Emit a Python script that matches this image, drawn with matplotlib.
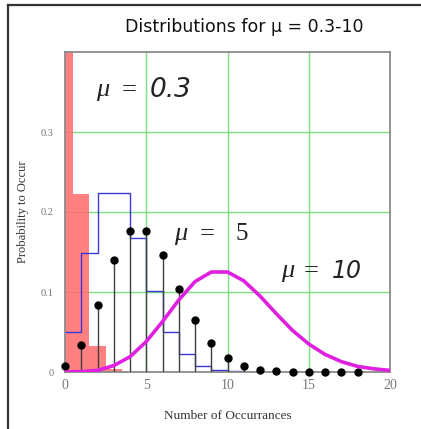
import numpy as np
from matplotlib import pyplot as plt
from matplotlib.lines import Line2D

# values
k_red = [0, 1, 2, 3]
p_red = [0.741, 0.222, 0.033, 0.004]          # mu = 0.3, bars

k_blue = [0, 1, 2, 3, 4, 5, 6, 7, 8, 9, 10]
p_blue = [0.050, 0.149, 0.224, 0.224, 0.168, 0.101, 0.050, 0.022, 0.008, 0.003, 0.001]   # blue step

k_stem = list(range(19))
p_stem = [0.007, 0.034, 0.084, 0.140, 0.176, 0.176, 0.146, 0.104, 0.065, 0.036,
          0.018, 0.008, 0.003, 0.001, 0.0005, 0.0002, 0.0001, 0.0, 0.0]   # mu = 5, stems

k_mag = list(range(21))
p_mag = [0.0, 0.0005, 0.002, 0.008, 0.019, 0.038, 0.063, 0.090, 0.113, 0.125, 0.125,
         0.114, 0.095, 0.073, 0.052, 0.035, 0.022, 0.013, 0.007, 0.004, 0.002]   # mu = 10

x_ticks = [0, 5, 10, 15, 20]
y_ticks = [0, 0.1, 0.2, 0.3]
y_tick_labels = ["0", "0.1", "0.2", "0.3"]

W, H = 421, 429
fig = plt.figure(figsize=(W / 100, H / 100), dpi=100)
ax = fig.add_axes([65 / W, (H - 372) / H, (390 - 65) / W, (372 - 52) / H])

grid_green = "#7fe07f"
ax.set_xlim(0, 20)
ax.set_ylim(0, 0.4)
ax.set_xticks(x_ticks)
ax.set_yticks(y_ticks)
ax.set_yticklabels(y_tick_labels)
for v in [5, 10, 15]:
    ax.axvline(v, color=grid_green, lw=1, zorder=0)
for v in [0.1, 0.2, 0.3]:
    ax.axhline(v, color=grid_green, lw=1, zorder=0)

ax.tick_params(length=0, colors="#777777")
for lab in ax.get_xticklabels():
    lab.set_family("Liberation Serif")
    lab.set_fontsize(10)
for lab in ax.get_yticklabels():
    lab.set_family("Liberation Serif")
    lab.set_fontsize(7.5)
ax.tick_params(axis="y", pad=8)
ax.tick_params(axis="x", pad=5)
for s in ax.spines.values():
    s.set_color("#8a8a8a")
    s.set_linewidth(1.3)

# mu = 0.3 bars
ax.bar(k_red, p_red, width=1.0, color="#ff6a6a", alpha=0.85, lw=0, zorder=1)

# blue step
ax.step(k_blue + [k_blue[-1] + 1], p_blue + [p_blue[-1]], where="post",
        color="#3838d8", lw=1, zorder=2)

# mu = 5 stems
ax.vlines(k_stem, 0, p_stem, color="#404040", lw=1, zorder=3)
ax.plot(k_stem, p_stem, "o", color="black", ms=5, zorder=4, clip_on=False)

# mu = 10 curve
ax.plot(k_mag, p_mag, color="#e020e0", lw=2.6, zorder=5, solid_joinstyle="round")

# labels inside the plot: (mu x, equals x, value x, y, value text, value font)
ink = "#222222"
labels = [
    (1.9, 3.5, 5.2, 0.352, "0.3", "DejaVu Sans", "italic", 19),
    (6.7, 8.3, 10.5, 0.172, "5", "Liberation Serif", "normal", 18),
    (13.3, 14.7, 16.4, 0.126, "10", "DejaVu Sans", "italic", 17),
]
for xm, xe, xv, y, val, fam, sty, fs in labels:
    ax.text(xm, y, "μ", family="Liberation Serif", style="italic",
            fontsize=19, va="center", color=ink)
    ax.text(xe, y, "=", family="Liberation Serif", fontsize=19,
            va="center", color=ink)
    ax.text(xv, y, val, family=fam, style=sty, fontsize=fs, va="center", color=ink)

ax.set_xlabel("Number of Occurrances", family="Liberation Serif", fontsize=9.5,
              color="#333333", labelpad=13)
ax.set_ylabel("Probability to Occur", family="Liberation Serif", fontsize=9,
              color="#333333", labelpad=9)

fig.text(244 / W, 1 - 27 / H, "Distributions for μ = 0.3-10",
         family="DejaVu Sans", fontsize=12.5, ha="center", va="center", color="#111111")

# outer frame (left and top edges)
fig.add_artist(Line2D([8 / W, 8 / W], [0, 1 - 5 / H], transform=fig.transFigure,
                      color="#333333", lw=1.6))
fig.add_artist(Line2D([8 / W, 1], [1 - 5 / H, 1 - 5 / H], transform=fig.transFigure,
                      color="#333333", lw=1.6))

fig.savefig("out.png", dpi=100)
